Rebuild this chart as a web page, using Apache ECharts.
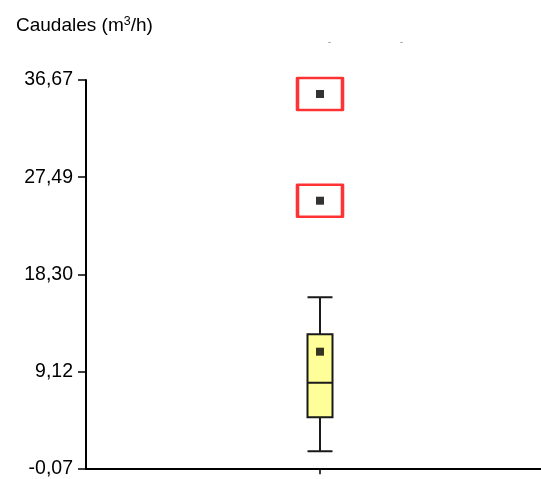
<!DOCTYPE html>
<html>
<head>
<meta charset="utf-8">
<script src="https://cdn.jsdelivr.net/npm/echarts@6/dist/echarts.min.js"></script>
<style>html,body{margin:0;padding:0;background:#fff}#c{width:541px;height:479px}</style>
</head>
<body>
<div id="c"></div>
<script>
var categories = ['Caudales'];
// [whisker low, Q1, median, Q3, whisker high]
var boxValues = [[1.60, 4.81, 8.08, 12.65, 16.15]];
var meanValues = [11.01];
var outlierValues = [25.27, 35.35];
var tickValues = [-0.07, 9.12, 18.30, 27.49, 36.67];
var tickLabels = ['-0,07', '9,12', '18,30', '27,49', '36,67'];

var FONT = "'Liberation Sans', Arial, sans-serif";
var chart = echarts.init(document.getElementById('c'), null, {renderer: 'canvas'});
function labelFor(v) {
  var best = 0, d = Infinity;
  for (var i = 0; i < tickValues.length; i++) {
    var dd = Math.abs(tickValues[i] - v);
    if (dd < d) { d = dd; best = i; }
  }
  return tickLabels[best];
}
var outlierData = outlierValues.map(function (v) { return [categories[0], v]; });
chart.setOption({
  animation: false,
  backgroundColor: '#fff',
  title: {
    text: 'Caudales (m{sup|3}/h)',
    left: 11, top: 10,
    textStyle: {
      fontFamily: FONT, fontSize: 19, fontWeight: 'normal', color: '#000',
      rich: { sup: { fontFamily: FONT, fontSize: 12.5, color: '#000', verticalAlign: 'top', padding: [0, 0, 9, 0] } }
    }
  },
  graphic: [
    { type: 'text', left: 328, top: 38, style: { text: '-', fontSize: 9, fill: '#777', fontFamily: FONT } },
    { type: 'text', left: 400, top: 38, style: { text: '-', fontSize: 9, fill: '#777', fontFamily: FONT } }
  ],
  grid: { left: 86, top: 80, width: 468, bottom: 10, containLabel: false, outerBoundsMode: 'none' },
  xAxis: {
    type: 'category',
    data: categories,
    boundaryGap: true,
    axisLine: { lineStyle: { color: '#000', width: 2 } },
    axisTick: { show: true, alignWithLabel: true, length: 6, lineStyle: { color: '#000', width: 1.5 } },
    axisLabel: { show: false },
    splitLine: { show: false }
  },
  yAxis: {
    type: 'value',
    min: tickValues[0],
    max: tickValues[tickValues.length - 1],
    axisLine: { show: true, lineStyle: { color: '#000', width: 2 } },
    axisTick: { show: true, customValues: tickValues, length: 8, lineStyle: { color: '#000', width: 1.5 } },
    axisLabel: {
      customValues: tickValues, margin: 13,
      color: '#000', fontFamily: FONT, fontSize: 19.5,
      formatter: function (v) { return labelFor(v); }
    },
    splitLine: { show: false }
  },
  series: [
    {
      type: 'boxplot',
      data: boxValues,
      boxWidth: [25, 25],
      itemStyle: { color: '#FFFF99', borderColor: '#1a1a1a', borderWidth: 2 },
      z: 2
    },
    {
      type: 'scatter',
      data: meanValues.map(function (v) { return [categories[0], v]; }),
      symbol: 'rect', symbolSize: 8,
      itemStyle: { color: '#000' },
      z: 3
    },
    {
      type: 'scatter',
      data: outlierData,
      symbol: 'rect', symbolSize: 8,
      itemStyle: { color: '#000' },
      z: 3
    },
    {
      type: 'scatter',
      data: outlierData,
      symbol: 'rect', symbolSize: [45, 32],
      itemStyle: { color: 'rgba(0,0,0,0)', borderColor: '#FF0000', borderWidth: 3, borderJoin: 'round' },
      z: 4
    }
  ]
});
</script>
</body>
</html>
